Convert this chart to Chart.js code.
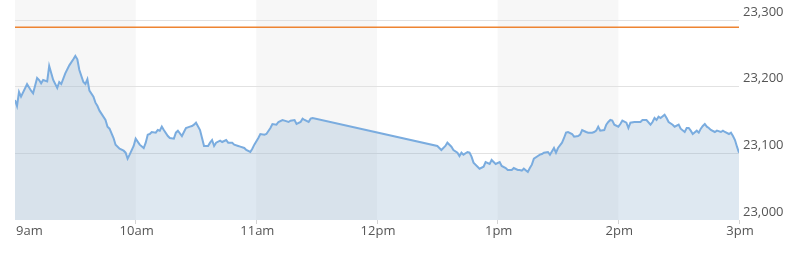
<!DOCTYPE html>
<html>
<head>
<meta charset="utf-8">
<script src="https://cdn.jsdelivr.net/npm/chart.js@4/dist/chart.umd.min.js"></script>
<style>
  html, body { margin: 0; padding: 0; background: #fff; }
  .wrap { width: 807px; height: 259px; position: relative; }
</style>
</head>
<body>
<div class="wrap"><canvas id="intraday"></canvas></div>
<script>
// minutes since 9:00
const minutes = [
  0, 1, 2, 3, 6, 8, 9, 11, 12, 13, 14, 16, 17, 19, 21, 22, 23, 25, 27, 29,
  30, 31, 32, 34, 35, 36, 37, 39, 40, 41, 42, 45, 46, 47, 49, 50, 52, 54, 55, 56,
  57, 59, 60, 62, 64, 65, 66, 67, 68, 70, 71, 72, 73, 74, 76, 77, 79, 80, 81, 83,
  84, 85, 87, 88, 89, 90, 92, 93, 94, 96, 97, 98, 99, 100, 102, 103, 105, 106, 108, 109,
  111, 112, 114, 115, 117, 118, 119, 121, 122, 124, 125, 127, 128, 130, 131, 133, 134, 136, 137, 139,
  140, 142, 143, 144, 146, 147, 148,
  210, 212, 214, 215, 217, 218, 220, 221, 222, 223, 225, 226, 227, 228, 230, 231, 233, 234, 236, 237,
  239, 241, 242, 244, 245, 247, 248, 250, 251, 252, 253, 255, 256, 257, 258, 260, 261, 262, 263, 265,
  266, 268, 269, 270, 272, 273, 274, 275, 277, 278, 280, 281, 282, 284, 285, 287, 288, 289, 290, 291,
  293, 294, 295, 296, 297, 298, 300, 301, 302, 304, 305, 306, 308, 309, 311, 312, 313, 314, 316, 317,
  318, 319, 320, 321, 323, 324, 325, 327, 328, 330, 331, 333, 334, 335, 336, 337, 339, 340, 341, 342,
  343, 344, 345, 346, 348, 349, 351, 352, 353, 355, 356, 357, 358, 359, 360
];
const prices = [
  23180, 23171, 23192, 23185, 23204, 23194, 23190, 23213, 23210, 23205, 23210, 23208, 23231, 23210, 23198, 23207, 23204, 23220, 23232, 23241,
  23246, 23241, 23225, 23207, 23204, 23211, 23194, 23185, 23176, 23171, 23164, 23150, 23140, 23137, 23123, 23113, 23107, 23104, 23101, 23092,
  23098, 23111, 23122, 23113, 23108, 23116, 23128, 23129, 23132, 23131, 23135, 23134, 23140, 23135, 23126, 23123, 23122, 23131, 23134, 23126,
  23132, 23138, 23140, 23141, 23143, 23146, 23135, 23123, 23111, 23111, 23116, 23120, 23111, 23116, 23119, 23117, 23120, 23116, 23116, 23113,
  23111, 23110, 23108, 23105, 23102, 23107, 23113, 23123, 23129, 23128, 23129, 23138, 23144, 23143, 23147, 23150, 23149, 23147, 23149, 23150,
  23144, 23147, 23152, 23150, 23147, 23152, 23153,
  23111, 23105, 23111, 23116, 23110, 23105, 23101, 23096, 23101, 23098, 23102, 23101, 23095, 23086, 23080, 23077, 23080, 23087, 23084, 23090,
  23084, 23087, 23081, 23078, 23075, 23075, 23078, 23075, 23075, 23074, 23077, 23072, 23078, 23083, 23092, 23096, 23098, 23099, 23101, 23102,
  23098, 23108, 23101, 23108, 23116, 23123, 23131, 23132, 23129, 23125, 23126, 23128, 23135, 23132, 23131, 23131, 23132, 23134, 23140, 23134,
  23135, 23143, 23147, 23150, 23149, 23143, 23140, 23144, 23149, 23146, 23138, 23146, 23147, 23147, 23147, 23150, 23150, 23150, 23143, 23147,
  23153, 23150, 23155, 23153, 23158, 23153, 23147, 23143, 23140, 23143, 23137, 23132, 23138, 23138, 23134, 23129, 23134, 23131, 23137, 23141,
  23144, 23140, 23138, 23135, 23132, 23134, 23132, 23134, 23132, 23129, 23131, 23126, 23120, 23110, 23101
];
const prevClose = 23289;
const hourTicks = [0, 60, 120, 180, 240, 300, 360];
const hourLabels = ["9am", "10am", "11am", "12pm", "1pm", "2pm", "3pm"];
const shadedHours = [[0, 60], [120, 180], [240, 300]];
const yTicks = [23000, 23100, 23200, 23300];

const FONT = "'Open Sans', 'DejaVu Sans', sans-serif";

const bandsPlugin = {
    id: "bands",
    beforeDraw(chart) {
        const { ctx, chartArea, scales } = chart;
        ctx.save();
        ctx.fillStyle = "#f7f7f7";
        shadedHours.forEach(([a, b]) => {
            const x1 = scales.x.getPixelForValue(a);
            const x2 = scales.x.getPixelForValue(b);
            ctx.fillRect(x1, chartArea.top, x2 - x1, chartArea.bottom - chartArea.top);
        });
        ctx.restore();
    },
    afterDraw(chart) {
        // hour labels under the axis, first one starts at its tick
        const { ctx, chartArea, scales } = chart;
        ctx.save();
        ctx.font = "13px " + FONT;
        ctx.fillStyle = "#555";
        ctx.textBaseline = "middle";
        hourTicks.forEach((m, i) => {
            const x = scales.x.getPixelForValue(m);
            ctx.textAlign = i === 0 ? "left" : "center";
            ctx.fillText(hourLabels[i], x + 1, chartArea.bottom + 11);
        });
        ctx.restore();
    }
};

const points = minutes.map((m, i) => ({ x: m, y: prices[i] }));

new Chart(document.getElementById("intraday"), {
    type: "line",
    data: {
        datasets: [
            {
                data: points,
                borderColor: "#7aacdf",
                borderWidth: 2,
                backgroundColor: "rgba(125, 165, 200, 0.25)",
                fill: "start",
                tension: 0,
                pointRadius: 0,
                order: 2,
            },
            {
                data: [{ x: 0, y: prevClose }, { x: 360, y: prevClose }],
                borderColor: "#ee8431",
                borderWidth: 1.5,
                pointRadius: 0,
                fill: false,
                order: 1,
            },
        ],
    },
    options: {
        responsive: true,
        maintainAspectRatio: false,
        animation: false,
        layout: { padding: { left: 15, top: 0, right: 0, bottom: 0 } },
        plugins: { legend: { display: false }, tooltip: { enabled: false } },
        scales: {
            x: {
                type: "linear",
                min: 0,
                max: 360,
                afterBuildTicks: (scale) => {
                    scale.ticks = hourTicks.map((v) => ({ value: v }));
                },
                afterFit: (scale) => {
                    scale.height = 39;
                    scale.paddingLeft = 0;
                    scale.paddingRight = 0;
                },
                ticks: { display: false },
                border: { display: false },
                grid: {
                    drawOnChartArea: false,
                    drawTicks: true,
                    tickLength: 4,
                    color: (c) => (c.index === 0 ? "rgba(0,0,0,0)" : "#d4d4d4"),
                },
            },
            y: {
                position: "right",
                min: 23000,
                max: 23330,
                afterBuildTicks: (scale) => {
                    scale.ticks = yTicks.map((v) => ({ value: v }));
                },
                afterFit: (scale) => {
                    scale.width = 68;
                    scale.paddingTop = 0;
                    scale.paddingBottom = 0;
                },
                border: { display: false },
                grid: {
                    drawTicks: false,
                    color: (c) => (c.tick && c.tick.value === 23000 ? "rgba(0,0,0,0)" : "#e2e2e2"),
                },
                ticks: {
                    padding: 4,
                    labelOffset: -8,
                    color: "#555",
                    font: { family: FONT, size: 13 },
                    callback: (v) => v.toLocaleString("en-US"),
                },
            },
        },
    },
    plugins: [bandsPlugin],
});
</script>
</body>
</html>
